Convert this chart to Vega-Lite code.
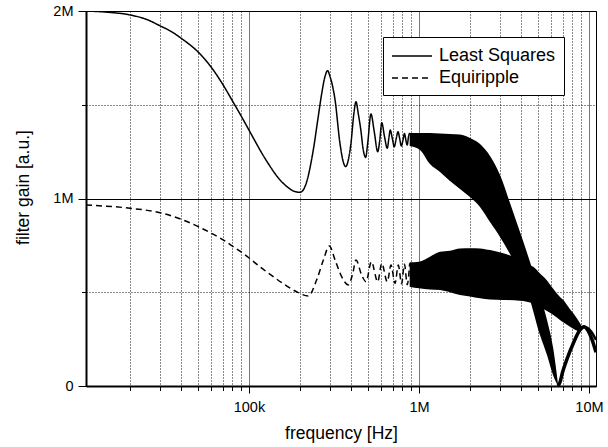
{
  "$schema": "https://vega.github.io/schema/vega-lite/v6.json",
  "width": 510,
  "height": 375,
  "autosize": {"type": "none"},
  "padding": {"left": 86, "top": 11, "right": 12, "bottom": 61},
  "background": "white",
  "config": {
    "font": "Liberation Sans",
    "view": {"stroke": "black", "strokeWidth": 1},
    "axis": {"labelFont": "Liberation Sans", "titleFont": "Liberation Sans", "labelColor": "black", "titleColor": "black", "titleFontWeight": "normal", "tickColor": "black", "domainColor": "black"}
  },
  "datasets": {
    "ls_line": [
      {"f": 11000, "g": 2000000}, {"f": 15000, "g": 1993000}, {"f": 20000, "g": 1979000}, {"f": 25000, "g": 1955000},
      {"f": 30000, "g": 1921000}, {"f": 35000, "g": 1890000}, {"f": 40000, "g": 1854000}, {"f": 50000, "g": 1783000},
      {"f": 60000, "g": 1700000}, {"f": 70000, "g": 1610000}, {"f": 80000, "g": 1520000}, {"f": 90000, "g": 1440000},
      {"f": 100000, "g": 1365000}, {"f": 126000, "g": 1205000}, {"f": 152000, "g": 1100000}, {"f": 170000, "g": 1058000},
      {"f": 185000, "g": 1038000}, {"f": 200000, "g": 1033000}, {"f": 215000, "g": 1070000}, {"f": 239000, "g": 1259000},
      {"f": 255000, "g": 1430000}, {"f": 268000, "g": 1561000}, {"f": 280000, "g": 1650000}, {"f": 290000, "g": 1682000},
      {"f": 300000, "g": 1650000}, {"f": 321000, "g": 1525000}, {"f": 343000, "g": 1294000}, {"f": 360000, "g": 1190000},
      {"f": 371000, "g": 1170000}, {"f": 385000, "g": 1210000}, {"f": 398000, "g": 1294000}, {"f": 415000, "g": 1460000},
      {"f": 426000, "g": 1516000}, {"f": 440000, "g": 1450000}, {"f": 455000, "g": 1365000}, {"f": 470000, "g": 1260000},
      {"f": 486000, "g": 1219000}, {"f": 500000, "g": 1300000}, {"f": 522000, "g": 1451000}, {"f": 545000, "g": 1360000},
      {"f": 572000, "g": 1250000}, {"f": 588000, "g": 1310000}, {"f": 604000, "g": 1404000}, {"f": 627000, "g": 1330000},
      {"f": 651000, "g": 1268000}, {"f": 665000, "g": 1320000}, {"f": 678000, "g": 1365000}, {"f": 697000, "g": 1320000},
      {"f": 716000, "g": 1276000}, {"f": 735000, "g": 1320000}, {"f": 753000, "g": 1356000}, {"f": 770000, "g": 1320000},
      {"f": 787000, "g": 1280000}, {"f": 805000, "g": 1310000}, {"f": 822000, "g": 1347000}, {"f": 838000, "g": 1310000},
      {"f": 853000, "g": 1285000}, {"f": 868000, "g": 1330000}, {"f": 882000, "g": 1350000}
    ],
    "er_line": [
      {"f": 11000, "g": 965000}, {"f": 20000, "g": 948000}, {"f": 30000, "g": 924000}, {"f": 40000, "g": 889000},
      {"f": 50000, "g": 851000}, {"f": 60000, "g": 815000}, {"f": 70000, "g": 781000}, {"f": 80000, "g": 746000},
      {"f": 97000, "g": 693000}, {"f": 116000, "g": 636000}, {"f": 139000, "g": 583000}, {"f": 167000, "g": 533000},
      {"f": 195000, "g": 498000}, {"f": 223000, "g": 480000}, {"f": 250000, "g": 565000}, {"f": 274000, "g": 672000},
      {"f": 297000, "g": 747000}, {"f": 321000, "g": 672000}, {"f": 351000, "g": 583000}, {"f": 384000, "g": 539000},
      {"f": 408000, "g": 601000}, {"f": 426000, "g": 672000}, {"f": 460000, "g": 592000}, {"f": 488000, "g": 556000},
      {"f": 525000, "g": 663000}, {"f": 572000, "g": 556000}, {"f": 604000, "g": 654000}, {"f": 651000, "g": 556000},
      {"f": 685000, "g": 645000}, {"f": 723000, "g": 547000}, {"f": 756000, "g": 645000}, {"f": 790000, "g": 545000},
      {"f": 822000, "g": 650000}, {"f": 853000, "g": 540000}, {"f": 882000, "g": 655000}
    ],
    "ls_band": [
      {"f": 882000, "lo": 1280000, "hi": 1350000}, {"f": 1014000, "lo": 1259000, "hi": 1350000},
      {"f": 1161000, "lo": 1184000, "hi": 1350000}, {"f": 1330000, "lo": 1141000, "hi": 1347000},
      {"f": 1522000, "lo": 1093000, "hi": 1344000}, {"f": 1743000, "lo": 1051000, "hi": 1341000},
      {"f": 1996000, "lo": 1008000, "hi": 1323000}, {"f": 2286000, "lo": 955000, "hi": 1291000},
      {"f": 2618000, "lo": 875000, "hi": 1227000}, {"f": 2998000, "lo": 795000, "hi": 1125000},
      {"f": 3432000, "lo": 704000, "hi": 976000}, {"f": 3929000, "lo": 608000, "hi": 821000},
      {"f": 4500000, "lo": 459000, "hi": 661000}, {"f": 5152000, "lo": 272000, "hi": 485000},
      {"f": 5665000, "lo": 165000, "hi": 352000}, {"f": 6144000, "lo": 59000, "hi": 208000},
      {"f": 6575000, "lo": 0, "hi": 10000}
    ],
    "er_band": [
      {"f": 882000, "lo": 530000, "hi": 660000}, {"f": 1000000, "lo": 521000, "hi": 663000},
      {"f": 1161000, "lo": 515000, "hi": 690000}, {"f": 1330000, "lo": 512000, "hi": 716000},
      {"f": 1522000, "lo": 500000, "hi": 722000}, {"f": 1743000, "lo": 485000, "hi": 734000},
      {"f": 1996000, "lo": 478000, "hi": 735000}, {"f": 2286000, "lo": 468000, "hi": 734000},
      {"f": 2618000, "lo": 462000, "hi": 725000}, {"f": 3130000, "lo": 459000, "hi": 708000},
      {"f": 3929000, "lo": 455000, "hi": 672000}, {"f": 4303000, "lo": 450000, "hi": 650000},
      {"f": 4706000, "lo": 440000, "hi": 636000}, {"f": 5152000, "lo": 420000, "hi": 600000},
      {"f": 5665000, "lo": 400000, "hi": 563000}, {"f": 6144000, "lo": 380000, "hi": 520000},
      {"f": 6754000, "lo": 352000, "hi": 475000}, {"f": 7060000, "lo": 340000, "hi": 459000},
      {"f": 7737000, "lo": 316000, "hi": 410000}, {"f": 8090000, "lo": 305000, "hi": 388000},
      {"f": 8857000, "lo": 290000, "hi": 335000}, {"f": 9060000, "lo": 300000, "hi": 320000},
      {"f": 9350000, "lo": 310000, "hi": 316000}
    ],
    "ls_tail": [
      {"f": 6575000, "g": 0}, {"f": 6754000, "g": 20000}, {"f": 7000000, "g": 75000}, {"f": 7396000, "g": 139000},
      {"f": 8090000, "g": 228000}, {"f": 8857000, "g": 299000}, {"f": 9350000, "g": 316000}, {"f": 9800000, "g": 300000},
      {"f": 10400000, "g": 250000}, {"f": 11000000, "g": 180000}
    ],
    "er_tail": [
      {"f": 9350000, "g": 314000}, {"f": 9800000, "g": 310000}, {"f": 10400000, "g": 285000}, {"f": 11000000, "g": 245000}
    ]
  },
  "layer": [
    {
      "data": {"name": "ls_line"},
      "mark": {"type": "line", "color": "black", "strokeWidth": 1.5, "interpolate": "monotone", "clip": true},
      "encoding": {
        "x": {"field": "f", "type": "quantitative", "scale": {"type": "log", "domain": [11000, 11000000], "nice": false},
          "axis": {"orient": "bottom", "values": [100000, 1000000, 10000000], "labelExpr": "datum.value >= 1000000 ? (datum.value/1000000) + 'M' : (datum.value/1000) + 'k'",
            "tickSize": 7, "labelFontSize": 14.5, "labelBaseline": "alphabetic", "labelPadding": 18, "grid": true, "gridColor": "#777", "gridWidth": 1,
            "domain": true, "domainWidth": 2, "title": "frequency [Hz]", "titleFontSize": 17.5, "titleX": 255, "titleY": 52, "titleBaseline": "alphabetic", "labelFlush": false}},
        "y": {"field": "g", "type": "quantitative", "scale": {"domain": [0, 2000000], "nice": false},
          "axis": {"orient": "left", "values": [0, 1000000, 2000000], "labelExpr": "datum.value == 0 ? '0' : (datum.value/1000000) + 'M'",
            "tickSize": 8, "labelFontSize": 14.5, "labelPadding": 5, "grid": true, "gridColor": "black", "gridWidth": 1,
            "domain": true, "domainWidth": 2, "title": "filter gain [a.u.]", "titleFontSize": 17.5, "titleX": -58, "titleY": 176, "titleBaseline": "alphabetic", "labelFlush": false}},
        "strokeDash": {"datum": "Least Squares", "type": "nominal",
          "scale": {"domain": ["Least Squares", "Equiripple"], "range": [[1, 0], [6, 4]]},
          "legend": {"orient": "none", "legendX": 297, "legendY": 26, "title": null, "symbolType": "M-1,0H3", "symbolSize": 400,
            "symbolStrokeWidth": 1.5, "symbolStrokeColor": "black", "symbolFillColor": "transparent", "labelFontSize": 18, "labelFont": "Liberation Sans", "labelColor": "black",
            "strokeColor": "black", "fillColor": "white", "padding": 8, "rowPadding": 2, "labelOffset": 26}}
      }
    },
    {
      "data": {"name": "er_line"},
      "mark": {"type": "line", "color": "black", "strokeWidth": 1.5, "interpolate": "monotone", "clip": true},
      "encoding": {
        "x": {"field": "f", "type": "quantitative", "scale": {"type": "log", "domain": [11000, 11000000], "nice": false},
          "axis": {"orient": "bottom", "values": [20000, 30000, 40000, 50000, 60000, 70000, 80000, 90000, 200000, 300000, 400000, 500000, 600000, 700000, 800000, 900000, 2000000, 3000000, 4000000, 5000000, 6000000, 7000000, 8000000, 9000000],
            "labels": false, "tickSize": 4.5, "grid": true, "gridDash": [1, 2], "gridColor": "#111", "domain": false, "title": null}},
        "y": {"field": "g", "type": "quantitative", "scale": {"domain": [0, 2000000], "nice": false},
          "axis": {"orient": "left", "values": [500000, 1500000], "labels": false, "tickSize": 4.5, "grid": true, "gridDash": [1, 2], "gridColor": "#111", "domain": false, "title": null}},
        "strokeDash": {"datum": "Equiripple", "type": "nominal"}
      }
    },
    {
      "data": {"name": "ls_band"},
      "mark": {"type": "area", "color": "black", "interpolate": "monotone", "clip": true},
      "encoding": {
        "x": {"field": "f", "type": "quantitative", "scale": {"type": "log", "domain": [11000, 11000000], "nice": false}, "axis": null},
        "y": {"field": "lo", "type": "quantitative", "scale": {"domain": [0, 2000000], "nice": false}, "axis": null},
        "y2": {"field": "hi"}
      }
    },
    {
      "data": {"name": "er_band"},
      "mark": {"type": "area", "color": "black", "interpolate": "monotone", "clip": true},
      "encoding": {
        "x": {"field": "f", "type": "quantitative", "scale": {"type": "log", "domain": [11000, 11000000], "nice": false}, "axis": null},
        "y": {"field": "lo", "type": "quantitative", "scale": {"domain": [0, 2000000], "nice": false}, "axis": null},
        "y2": {"field": "hi"}
      }
    },
    {
      "data": {"name": "ls_tail"},
      "mark": {"type": "line", "color": "black", "strokeWidth": 3.5, "interpolate": "monotone", "clip": true},
      "encoding": {
        "x": {"field": "f", "type": "quantitative", "scale": {"type": "log", "domain": [11000, 11000000], "nice": false}, "axis": null},
        "y": {"field": "g", "type": "quantitative", "scale": {"domain": [0, 2000000], "nice": false}, "axis": null}
      }
    },
    {
      "data": {"name": "er_tail"},
      "mark": {"type": "line", "color": "black", "strokeWidth": 2.5, "interpolate": "monotone", "clip": true},
      "encoding": {
        "x": {"field": "f", "type": "quantitative", "scale": {"type": "log", "domain": [11000, 11000000], "nice": false}, "axis": null},
        "y": {"field": "g", "type": "quantitative", "scale": {"domain": [0, 2000000], "nice": false}, "axis": null}
      }
    }
  ],
  "resolve": {"axis": {"x": "independent", "y": "independent"}}
}
